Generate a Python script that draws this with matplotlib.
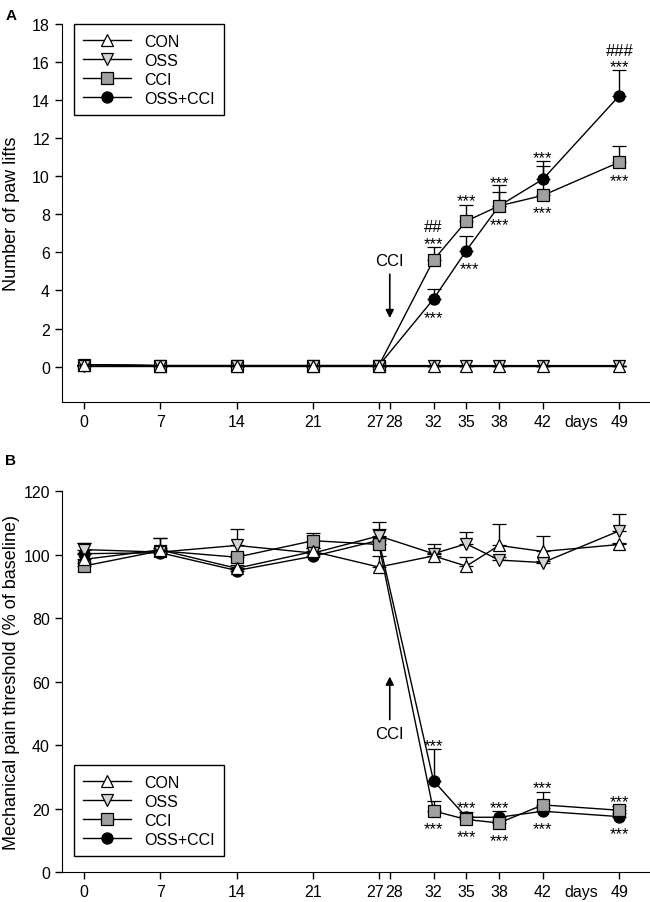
import numpy as np
import matplotlib
matplotlib.use('Agg')
import matplotlib.pyplot as plt
import matplotlib.transforms as mtransforms
from matplotlib.lines import Line2D

plt.rcParams['font.family'] = ['Liberation Sans', 'DejaVu Sans']

days = [0, 7, 14, 21, 27, 32, 35, 38, 42, 49]
tick_days = [0, 7, 14, 21, 27, 28, 32, 35, 38, 42, 45.5, 49]
tick_labels = ['0', '7', '14', '21', '27', '28', '32', '35', '38', '42', 'days', '49']
groups = ['CON', 'OSS', 'CCI', 'OSS+CCI']

# panel A - number of paw lifts
lifts_con = [0.1, 0.05, 0.05, 0.05, 0.05, 0.05, 0.05, 0.05, 0.05, 0.05]
lifts_oss = [0.05, 0.05, 0.05, 0.05, 0.05, 0.05, 0.05, 0.05, 0.05, 0.05]
lifts_cci = [0.1, 0.05, 0.05, 0.05, 0.05, 5.6, 7.65, 8.45, 9.0, 10.75]
lifts_oss_cci = [0.1, 0.05, 0.05, 0.05, 0.05, 3.55, 6.1, 8.45, 9.85, 14.25]
lifts_err_con = [0, 0, 0, 0, 0, 0, 0, 0, 0, 0]
lifts_err_oss = [0, 0, 0, 0, 0, 0, 0, 0, 0, 0]
lifts_err_cci = [0, 0, 0, 0, 0, 0.7, 0.85, 1.1, 1.55, 0.85]
lifts_err_oss_cci = [0, 0, 0, 0, 0, 0.55, 0.75, 0.73, 0.96, 1.35]

# significance marks, panel A: (day, y, text)
marks_a = [(32, 7.35, '##'), (32, 6.7, '***'), (32, 2.8, '***'),
           (35, 8.95, '***'), (35.3, 5.35, '***'),
           (38, 9.9, '***'), (38, 7.7, '***'),
           (42, 11.2, '***'), (42, 8.3, '***'),
           (49, 16.6, '###'), (49, 16.0, '***'), (49, 10.0, '***')]

# panel B - mechanical pain threshold
thr_con = [98.5, 101.5, 95.7, 101.0, 96.1, 99.6, 96.4, 102.9, 101.0, 103.2]
thr_oss = [101.6, 100.8, 102.9, 100.5, 105.9, 100.3, 103.4, 98.3, 97.5, 107.5]
thr_cci = [96.4, 101.2, 99.2, 104.4, 103.2, 19.3, 16.6, 15.5, 21.2, 19.5]
thr_oss_cci = [100.3, 100.6, 95.0, 99.5, 104.5, 28.8, 17.3, 17.3, 19.2, 17.5]
thr_err_con = [2.0, 3.6, 1.0, 1.0, 3.6, 1.0, 3.0, 6.8, 4.9, 0.5]
thr_err_oss = [2.2, 4.3, 5.2, 1.5, 4.5, 3.0, 3.6, 1.0, 0.5, 5.3]
thr_err_cci = [1.0, 1.0, 1.0, 2.4, 4.8, 3.2, 1.0, 1.0, 4.2, 1.5]
thr_err_oss_cci = [3.4, 1.0, 0.5, 1.0, 1.0, 10.0, 1.8, 2.1, 1.0, 1.0]

marks_b = [(32, 41.2, '***'), (32, 15.0, '***'),
           (35, 21.8, '***'), (35, 12.6, '***'),
           (38, 21.8, '***'), (38, 11.2, '***'),
           (42, 27.8, '***'), (42, 15.0, '***'),
           (49, 23.6, '***'), (49, 13.6, '***')]

styles = [dict(marker='^', mfc='white'),
          dict(marker='v', mfc='#d4d4d4'),
          dict(marker='s', mfc='#a0a0a0'),
          dict(marker='o', mfc='black')]


def draw_panel(ax, series, errs, marks):
    for i in range(4):
        y = np.array(series[i])
        e = np.array(errs[i])
        ax.errorbar(days, y, yerr=[np.zeros_like(e), e], color='black',
                    lw=1, elinewidth=1, capsize=5, capthick=1,
                    mec='black', ms=8, mew=0.9,
                    zorder=3 + (3 - i) * 0.1, **styles[i])
    for d, yy, t in marks:
        # asterisks sit high in the glyph box, so push them down a little
        ax.annotate(t, (d, yy), xytext=(0, -3 if t == '***' else 0),
                    textcoords='offset points', ha='center', va='center', fontsize=12)
    ax.spines['top'].set_visible(False)
    ax.spines['right'].set_visible(False)
    ax.set_xlim(-2, 51.8)
    ax.set_xticks(tick_days)
    ax.set_xticklabels(tick_labels, fontsize=11.5)
    ax.tick_params(direction='out', length=5, width=1)
    ax.xaxis.get_major_ticks()[10].tick1line.set_visible(False)
    ax.tick_params(axis='y', labelsize=11.5)
    labs = ax.get_xticklabels()
    labs[4].set_transform(labs[4].get_transform() +
                          mtransforms.ScaledTranslation(-3 / 72, 0, fig.dpi_scale_trans))
    labs[5].set_transform(labs[5].get_transform() +
                          mtransforms.ScaledTranslation(3 / 72, 0, fig.dpi_scale_trans))
    handles = [Line2D([], [], color='black', lw=1, mec='black', ms=8, mew=0.9, **s)
               for s in styles]
    return handles


fig = plt.figure(figsize=(6.5, 9.03), dpi=100)
ax1 = fig.add_axes([0.095, 0.554, 0.905, 0.418])
ax2 = fig.add_axes([0.095, 0.033, 0.905, 0.422])

handles = draw_panel(ax1, [lifts_con, lifts_oss, lifts_cci, lifts_oss_cci],
                     [lifts_err_con, lifts_err_oss, lifts_err_cci, lifts_err_oss_cci], marks_a)
ax1.set_ylim(-1.85, 18)
ax1.set_yticks(np.arange(0, 19, 2))
ax1.set_ylabel('Number of paw lifts', fontsize=13)
ax1.yaxis.set_label_coords(-0.071, 0.5)
ax1.annotate('', xy=(28, 2.4), xytext=(28, 5.0),
             arrowprops=dict(arrowstyle='-|>', color='black', lw=1.2, mutation_scale=12))
ax1.text(28, 5.6, 'CCI', ha='center', va='center', fontsize=12)
leg = ax1.legend(handles, groups, loc='upper left', bbox_to_anchor=(0.02, 1.0),
                 borderaxespad=0, fancybox=False, edgecolor='black', framealpha=1,
                 fontsize=11.5, handlelength=3.0, borderpad=0.6, labelspacing=0.25,
                 handletextpad=0.8)
leg.get_frame().set_linewidth(1)

draw_panel(ax2, [thr_con, thr_oss, thr_cci, thr_oss_cci],
           [thr_err_con, thr_err_oss, thr_err_cci, thr_err_oss_cci], marks_b)
ax2.set_ylim(0, 120)
ax2.set_yticks(np.arange(0, 121, 20))
ax2.set_ylabel('Mechanical pain threshold (% of baseline)', fontsize=13)
ax2.yaxis.set_label_coords(-0.071, 0.5)
ax2.annotate('', xy=(28, 62.5), xytext=(28, 47.2),
             arrowprops=dict(arrowstyle='-|>', color='black', lw=1.2, mutation_scale=12))
ax2.text(28, 43.7, 'CCI', ha='center', va='center', fontsize=12)
leg = ax2.legend(handles, groups, loc='lower left', bbox_to_anchor=(0.02, 0.042),
                 borderaxespad=0, fancybox=False, edgecolor='black', framealpha=1,
                 fontsize=11.5, handlelength=3.0, borderpad=0.6, labelspacing=0.25,
                 handletextpad=0.8)
leg.get_frame().set_linewidth(1)

fig.text(0.008, 0.99, 'A', fontsize=11, fontweight='bold', va='top')
fig.text(0.008, 0.497, 'B', fontsize=11, fontweight='bold', va='top')

fig.savefig('out.png', dpi=100)
